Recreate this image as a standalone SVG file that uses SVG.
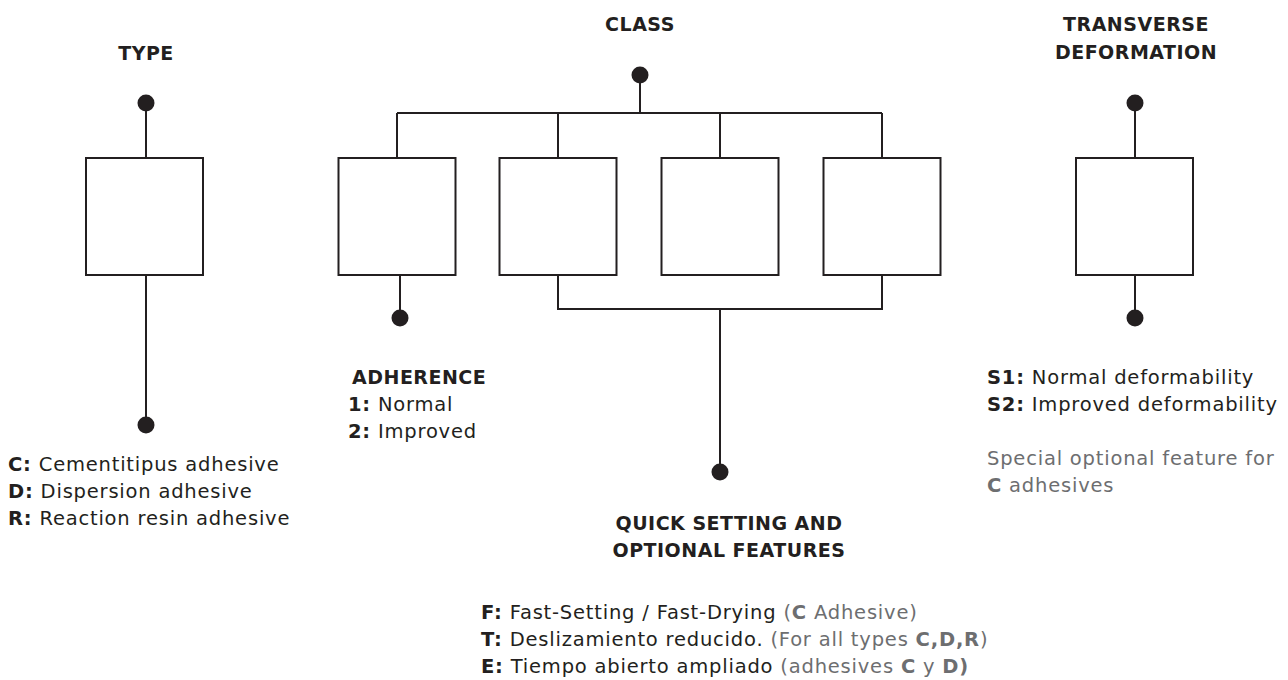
<svg xmlns="http://www.w3.org/2000/svg" width="1288" height="680" viewBox="0 0 1288 680">
<style>
text{font-family:"DejaVu Sans","Liberation Sans",sans-serif;fill:#231f20;font-size:19.5px;letter-spacing:0.8px}
.h{font-weight:700;font-size:19px;letter-spacing:0.5px;text-anchor:middle}
.hl{font-weight:700;font-size:19px;letter-spacing:0.5px}
.b{font-weight:700}
.g{fill:#6d6e70}
.box{fill:#fff;stroke:#231f20;stroke-width:2}
.ln{fill:none;stroke:#231f20;stroke-width:2}
.dot{fill:#231f20}
</style>
<rect width="1288" height="680" fill="#fff"/>
<g id="connectors">
<path class="ln" d="M146 103V158M146 275V425"/>
<path class="ln" d="M640 75V113M397 113H882M397 113V158M558 113V158M720 113V158M882 113V158"/>
<path class="ln" d="M400 275V318"/>
<path class="ln" d="M558 275V309H882V275M720 309V472"/>
<path class="ln" d="M1135 103V158M1135 275V318"/>
</g>
<g id="type">
<text class="h" x="146" y="60">TYPE</text>
<circle class="dot" cx="146" cy="103" r="8.5"/>
<rect class="box" x="86" y="158" width="117" height="117"/>
<circle class="dot" cx="146" cy="425" r="8.5"/>
<text x="8" y="471"><tspan class="b">C:</tspan> Cementitipus adhesive</text>
<text x="8" y="498"><tspan class="b">D:</tspan> Dispersion adhesive</text>
<text x="8" y="525"><tspan class="b">R:</tspan> Reaction resin adhesive</text>
</g>
<g id="class">
<text class="h" x="640" y="31">CLASS</text>
<circle class="dot" cx="640" cy="75" r="8.5"/>
</g>
<g id="class-box-1">
<rect class="box" x="338.5" y="158" width="117" height="117"/>
<circle class="dot" cx="400" cy="318" r="8.5"/>
<text class="hl" x="352" y="384">ADHERENCE</text>
<text x="348" y="411"><tspan class="b">1:</tspan> Normal</text>
<text x="348" y="438"><tspan class="b">2:</tspan> Improved</text>
</g>
<g id="class-box-2"><rect class="box" x="499.5" y="158" width="117" height="117"/></g>
<g id="class-box-3"><rect class="box" x="661.5" y="158" width="117" height="117"/></g>
<g id="class-box-4"><rect class="box" x="823.5" y="158" width="117" height="117"/></g>
<g id="quick">
<circle class="dot" cx="720" cy="472" r="8.5"/>
<text class="h" x="729" y="530">QUICK SETTING AND</text>
<text class="h" x="729" y="557">OPTIONAL FEATURES</text>
<text x="481" y="619"><tspan class="b">F:</tspan> Fast-Setting / Fast-Drying <tspan class="g">(<tspan class="b">C</tspan> Adhesive)</tspan></text>
<text x="481" y="646"><tspan class="b">T:</tspan> Deslizamiento reducido. <tspan class="g">(For all types <tspan class="b">C,D,R</tspan>)</tspan></text>
<text x="481" y="673"><tspan class="b">E:</tspan> Tiempo abierto ampliado <tspan class="g">(adhesives <tspan class="b">C</tspan> y <tspan class="b">D)</tspan></tspan></text>
</g>
<g id="transverse">
<text class="h" x="1136" y="31">TRANSVERSE</text>
<text class="h" x="1136" y="59">DEFORMATION</text>
<circle class="dot" cx="1135" cy="103" r="8.5"/>
<rect class="box" x="1076" y="158" width="117" height="117"/>
<circle class="dot" cx="1135" cy="318" r="8.5"/>
<text x="987" y="384"><tspan class="b">S1:</tspan> Normal deformability</text>
<text x="987" y="411"><tspan class="b">S2:</tspan> Improved deformability</text>
<text class="g" x="987" y="465">Special optional feature for</text>
<text class="g" x="987" y="492"><tspan class="b">C</tspan> adhesives</text>
</g>
</svg>
